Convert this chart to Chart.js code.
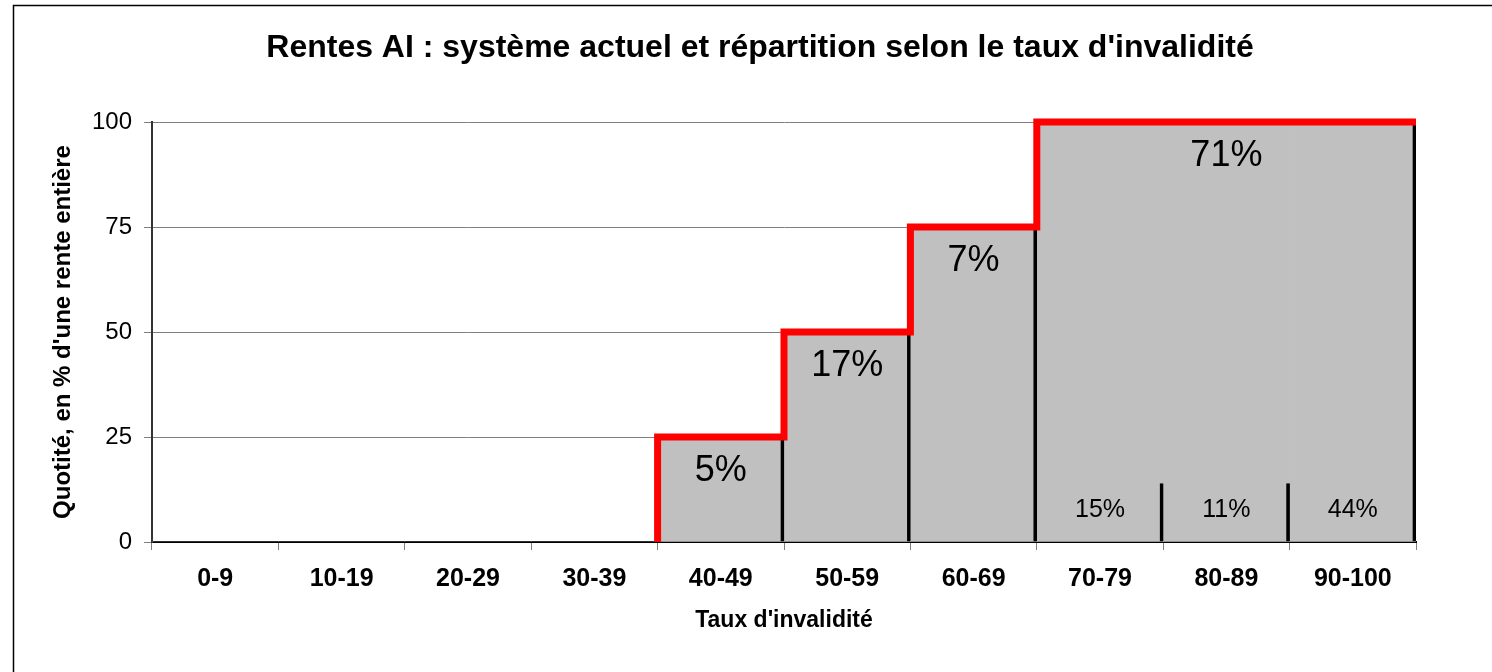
<!DOCTYPE html>
<html>
<head>
<meta charset="utf-8">
<script src="https://cdn.jsdelivr.net/npm/chart.js@4/dist/chart.umd.min.js"></script>
<style>
  html, body { margin: 0; padding: 0; background: #ffffff; }
  #wrap { width: 1492px; height: 672px; position: relative; }
  canvas { display: block; }
</style>
</head>
<body>
<div id="wrap"><canvas id="c" width="1492" height="672"></canvas></div>
<script>
// ---- Data ----
const chartTitle = "Rentes AI : système actuel et répartition selon le taux d'invalidité";
const xTitle = "Taux d'invalidité";
const yTitle = "Quotité, en % d'une rente entière";
const categories = ['0-9','10-19','20-29','30-39','40-49','50-59','60-69','70-79','80-89','90-100'];
const quotite = [0, 0, 0, 0, 25, 50, 75, 100, 100, 100];
const separatorHeights = [0, 0, 0, 0, 25, 50, 75, 14, 14, 100];
const yTicks = [0, 25, 50, 75, 100];
// Current system: quotité steps by taux d'invalidité
const stepStart = [40, 50, 60, 70];
const stepLevel = [25, 50, 75, 100];
const stepEnd = 100;
// Share of rentes by quotité level (%)
const levelShares = [5, 17, 7, 71];
// Split of the full rentes by taux class (%)
const fullCategories = ['70-79', '80-89', '90-100'];
const fullShares = [15, 11, 44];

// ---- Build step line from the arrays ----
const stepPoints = [];
let prevLevel = 0;
stepStart.forEach((s, i) => {
  stepPoints.push({ x: s, y: prevLevel });
  stepPoints.push({ x: s, y: stepLevel[i] });
  prevLevel = stepLevel[i];
});
stepPoints.push({ x: stepEnd, y: prevLevel });

const FONT = "'Liberation Sans', Arial, Helvetica, sans-serif";

const decorPlugin = {
  id: 'decor',
  beforeDraw(chart) {
    const ctx = chart.ctx;
    ctx.save();
    ctx.fillStyle = '#ffffff';
    ctx.fillRect(0, 0, chart.width, chart.height);
    // outer frame
    ctx.strokeStyle = '#000000';
    ctx.lineWidth = 1.5;
    ctx.beginPath();
    ctx.moveTo(chart.width, 5.5);
    ctx.lineTo(13.5, 5.5);
    ctx.lineTo(13.5, chart.height);
    ctx.stroke();
    // title
    ctx.fillStyle = '#000000';
    ctx.font = "bold 32px " + FONT;
    ctx.textAlign = 'center';
    ctx.textBaseline = 'middle';
    ctx.fillText(chartTitle, 760, 48);
    ctx.restore();
  },
  afterDatasetsDraw(chart) {
    const ctx = chart.ctx;
    const y = chart.scales.y;
    const xr = chart.scales.xRate;
    const xc = chart.scales.x;
    ctx.save();
    ctx.fillStyle = '#000000';
    ctx.textAlign = 'center';
    ctx.textBaseline = 'middle';
    ctx.font = "36px " + FONT;
    levelShares.forEach((v, i) => {
      const from = stepStart[i];
      const to = i + 1 < stepStart.length ? stepStart[i + 1] : stepEnd;
      const px = (xr.getPixelForValue(from) + xr.getPixelForValue(to)) / 2;
      const py = y.getPixelForValue(stepLevel[i]) + 34;
      ctx.fillText(v + '%', px, py);
    });
    ctx.font = "25px " + FONT;
    fullShares.forEach((v, i) => {
      const px = xc.getPixelForValue(categories.indexOf(fullCategories[i]));
      const py = y.getPixelForValue(0) - 32;
      ctx.fillText(v + '%', px, py);
    });
    ctx.restore();
  }
};

new Chart(document.getElementById('c'), {
  data: {
    labels: categories,
    datasets: [
      {
        type: 'line',
        label: 'Système actuel',
        data: stepPoints,
        xAxisID: 'xRate',
        yAxisID: 'y',
        borderColor: '#ff0000',
        borderWidth: 7,
        borderJoinStyle: 'miter',
        borderCapStyle: 'butt',
        pointRadius: 0,
        tension: 0,
        fill: false,
        clip: false,
        order: 0
      },
      {
        type: 'bar',
        label: 'Séparations',
        data: separatorHeights,
        xAxisID: 'x',
        yAxisID: 'y',
        backgroundColor: 'rgba(0,0,0,0)',
        borderColor: '#000000',
        borderWidth: { top: 0, left: 0, bottom: 0, right: 3 },
        borderSkipped: false,
        grouped: false,
        categoryPercentage: 1,
        barPercentage: 1,
        order: 1
      },
      {
        type: 'bar',
        label: 'Quotité',
        data: quotite,
        xAxisID: 'x',
        yAxisID: 'y',
        backgroundColor: '#c0c0c0',
        borderWidth: 0,
        grouped: false,
        categoryPercentage: 1,
        barPercentage: 1,
        order: 2
      }
    ]
  },
  options: {
    responsive: false,
    animation: false,
    devicePixelRatio: 1,
    layout: { padding: { top: 122, right: 76, left: 0, bottom: 0 } },
    plugins: {
      legend: { display: false },
      title: { display: false },
      tooltip: { enabled: false }
    },
    scales: {
      x: {
        type: 'category',
        position: 'bottom',
        z: 1,
        offset: true,
        afterFit(scale) { scale.height = 130; },
        grid: {
          offset: true,
          drawOnChartArea: false,
          drawTicks: true,
          tickLength: 8,
          color: '#808080',
          lineWidth: 1
        },
        border: { display: true, color: '#000000', width: 2 },
        ticks: {
          color: '#000000',
          padding: 14,
          maxRotation: 0,
          autoSkip: false,
          font: { family: FONT, size: 25, weight: 'bold' }
        },
        title: {
          display: true,
          text: xTitle,
          color: '#000000',
          font: { family: FONT, size: 23, weight: 'bold' },
          padding: { top: 0, bottom: 38 }
        }
      },
      xRate: {
        type: 'linear',
        position: 'bottom',
        display: false,
        min: 0,
        max: 100
      },
      y: {
        type: 'linear',
        position: 'left',
        min: 0,
        max: 100,
        afterFit(scale) { scale.width = 152; },
        afterBuildTicks(scale) { scale.ticks = yTicks.map(v => ({ value: v })); },
        grid: {
          color: '#808080',
          lineWidth: 1,
          drawTicks: true,
          tickLength: 8,
          tickColor: '#808080'
        },
        border: { display: true, color: '#333333', width: 2 },
        ticks: {
          color: '#000000',
          padding: 12,
          font: { family: FONT, size: 24 }
        },
        title: {
          display: true,
          text: yTitle,
          color: '#000000',
          font: { family: FONT, size: 24, weight: 'bold' },
          padding: { top: 49, bottom: 0 }
        }
      }
    }
  },
  plugins: [decorPlugin]
});
</script>
</body>
</html>
